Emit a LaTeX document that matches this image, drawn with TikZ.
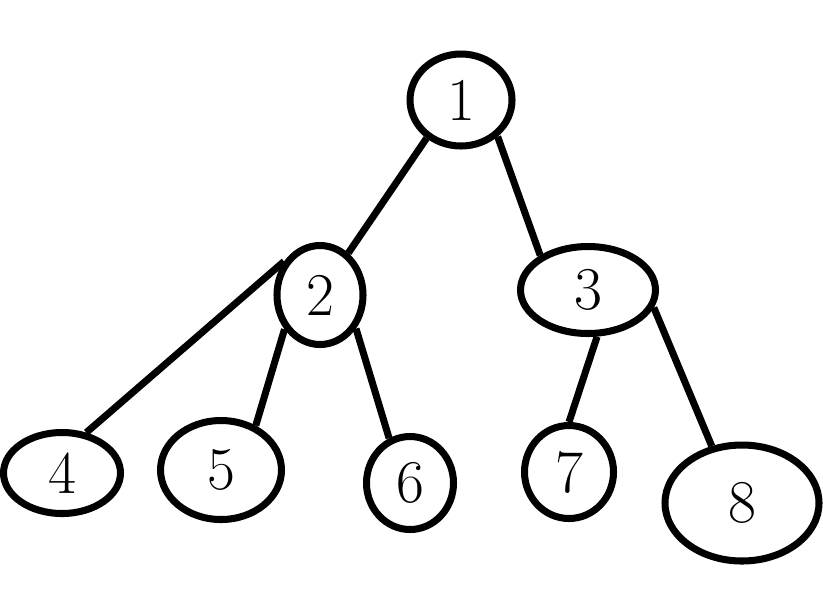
\documentclass[tikz,border=0pt]{standalone}
\usetikzlibrary{shapes.geometric}

\begin{document}
\begin{tikzpicture}[
  knot/.style={ellipse, draw, line width=2pt, inner sep=0pt, font=\LARGE},
  link/.style={line width=2pt}
]
  \useasboundingbox (0,0) rectangle (8.23,5.99);
  \node[knot, minimum width=1.02cm, minimum height=0.92cm] (n1) at (4.61,4.99) {1};
  \node[knot, minimum width=0.86cm, minimum height=0.99cm] (n2) at (3.20,3.04) {2};
  \node[knot, minimum width=1.35cm, minimum height=0.87cm] (n3) at (5.88,3.09) {3};
  \node[knot, minimum width=1.17cm, minimum height=0.81cm] (n4) at (0.62,1.26) {4};
  \node[knot, minimum width=1.21cm, minimum height=0.99cm] (n5) at (2.21,1.29) {5};
  \node[knot, minimum width=0.87cm, minimum height=0.93cm] (n6) at (4.10,1.16) {6};
  \node[knot, minimum width=0.89cm, minimum height=0.93cm] (n7) at (5.69,1.27) {7};
  \node[knot, minimum width=1.54cm, minimum height=1.16cm] (n8) at (7.42,0.96) {8};
  \draw[link] (n1.228) -- (n2.56);
  \draw[link] (n1.-45) -- (n3.144);
  \draw[link] (n2.137) -- (n4.59);
  \draw[link] (n2.224) -- (n5.52);
  \draw[link] (n2.-43) -- (n6.115);
  \draw[link] (n3.-79) -- (n7.90);
  \draw[link] (n3.-15) -- (n8.118);
\end{tikzpicture}
\end{document}
